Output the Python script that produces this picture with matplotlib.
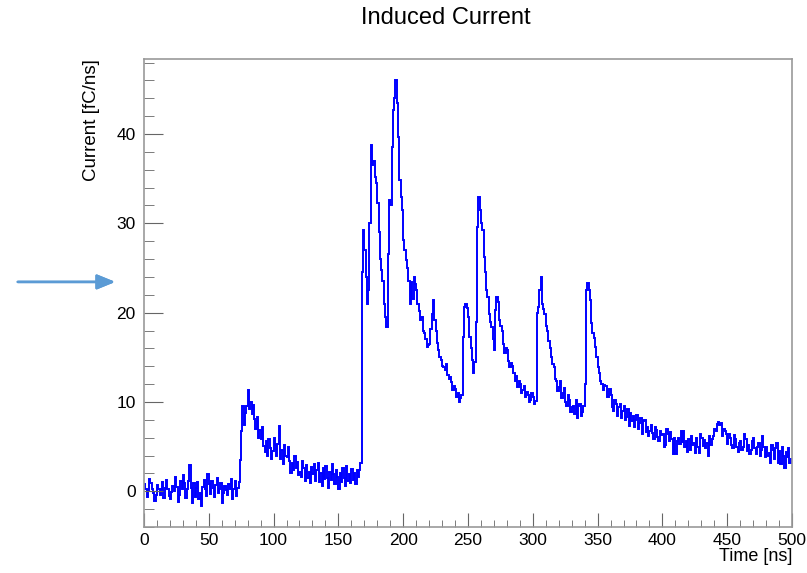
import numpy as np
import matplotlib.pyplot as plt
from matplotlib.ticker import MultipleLocator

plt.rcParams["font.family"] = ["Liberation Sans", "DejaVu Sans"]

# induced current per 1 ns bin, 0..500 ns
current = [
    0.8, 0.2, -0.6, 0.1, 1.4, 0.9, 0.3, -0.2, -1.1, -0.4,
    0.7, 0.2, -0.4, 0.3, 1.0, -0.8, 0.4, 1.3, 0.2, -0.5,
    -0.9, -0.1, 0.6, 0.0, 1.6, 0.5, -1.2, -0.4, 1.1, 0.3,
    1.8, 0.9, -0.7, 0.2, 1.2, 2.9, 0.4, -1.3, 0.9, -0.6,
    0.4, 1.0, -0.9, -0.2, -1.7, 0.5, 1.3, 0.2, -0.5, 1.9,
    0.8, -0.3, 1.2, 0.4, -0.6, 0.7, 1.5, -0.2, 0.3, 0.9,
    -1.3, -0.2, 0.6, 0.1, -0.4, 0.8, 0.2, 1.4, -0.9, 0.3,
    1.2, -0.5, 0.4, 1.0, 3.5, 6.8, 9.6, 7.4, 8.8, 9.5,
    11.3, 9.2, 10.0, 8.6, 9.7, 8.1, 7.0, 8.3, 6.0, 6.9,
    5.8, 7.2, 5.1, 4.4, 5.6, 4.0, 5.9, 4.8, 3.6, 4.5,
    6.0, 5.2, 4.0, 5.3, 7.3, 3.6, 4.6, 3.0, 5.2, 4.0,
    3.8, 5.0, 3.4, 2.0, 3.2, 2.4, 4.0, 2.6, 3.3, 1.8,
    2.2, 1.6, 3.4, 2.6, 1.2, 2.9, 1.5, 2.2, 0.9, 2.7,
    1.9, 3.0, 1.1, 2.4, 3.2, 1.0, 2.0, 0.6, 2.6, 1.4,
    2.8, 1.5, 0.4, 2.2, 1.3, 3.0, 1.9, 0.8, 2.4, 1.6,
    0.2, 2.1, 1.0, 2.6, 1.5, 0.6, 2.8, 1.2, 1.9, 0.9,
    2.5, 1.3, 2.0, 0.8, 2.4, 1.6, 2.4, 3.2, 24.5, 29.2,
    27.0, 24.0, 21.0, 22.5, 30.0, 38.8, 36.5, 37.0, 35.2, 34.5,
    32.3, 29.0, 26.0, 24.8, 23.6, 21.0, 19.5, 18.4, 26.6, 32.6,
    32.0, 38.5, 42.7, 44.0, 46.0, 43.5, 39.7, 34.8, 33.0, 31.5,
    28.1, 27.0, 25.9, 25.0, 23.6, 21.0, 23.4, 21.5, 24.0, 23.2,
    22.5, 21.0, 20.2, 19.2, 19.5, 18.0, 17.7, 17.0, 16.1, 16.4,
    16.5, 18.2, 19.9, 21.4, 19.2, 18.0, 16.6, 15.8, 15.0, 14.7,
    14.0, 13.9, 13.6, 14.2, 13.0, 12.6, 12.8, 12.2, 11.3, 11.8,
    11.5, 10.5, 11.0, 10.0, 10.4, 10.8, 17.3, 20.6, 21.0, 20.5,
    19.5, 17.3, 16.0, 14.7, 13.2, 14.5, 19.0, 29.6, 33.0, 31.5,
    30.0, 29.2, 26.2, 24.5, 22.5, 21.7, 19.9, 19.0, 18.4, 17.0,
    15.8, 20.3, 21.7, 21.2, 19.2, 18.5, 18.0, 16.5, 15.5, 16.0,
    15.8, 14.6, 13.9, 14.4, 14.0, 13.2, 12.4, 12.9, 11.7, 12.3,
    12.0, 11.0, 11.3, 11.8, 10.5, 11.1, 10.8, 10.0, 10.2, 11.0,
    10.6, 9.8, 10.1, 20.0, 20.6, 22.5, 24.0, 21.0, 20.4, 19.9,
    18.5, 18.0, 16.8, 16.0, 15.0, 14.2, 13.9, 12.6, 12.4, 11.2,
    11.7, 12.3, 10.4, 11.0, 11.6, 10.0, 9.6, 10.8, 10.2, 8.9,
    9.4, 9.6, 8.7, 10.2, 8.2, 9.6, 9.8, 8.4, 8.9, 9.5,
    12.0, 22.5, 23.3, 22.5, 21.4, 18.8, 17.7, 17.2, 16.1, 15.0,
    13.9, 13.2, 12.4, 12.0, 11.3, 11.9, 11.8, 10.6, 10.5, 11.4,
    10.8, 9.4, 9.0, 10.2, 9.8, 8.4, 9.4, 9.8, 8.2, 9.0,
    9.5, 8.0, 8.3, 9.2, 7.3, 8.8, 7.9, 8.4, 7.2, 8.0,
    8.5, 7.0, 7.6, 8.2, 6.4, 7.9, 8.0, 6.6, 7.2, 6.2,
    6.8, 7.4, 6.5, 5.8, 7.2, 6.9, 6.1, 5.6, 6.8, 6.3,
    6.4, 5.0, 5.2, 7.0, 6.4, 5.6, 6.6, 5.8, 4.2, 6.0,
    4.2, 5.6, 6.0, 5.3, 6.8, 5.5, 6.8, 5.0, 5.6, 4.4,
    5.8, 4.6, 6.2, 5.2, 5.4, 4.3, 6.0, 5.0, 4.3, 6.4,
    6.0, 5.1, 5.7, 4.8, 5.4, 4.0, 6.2, 5.2, 5.8, 6.2,
    7.0, 6.8, 7.5, 7.8, 7.4, 7.6, 6.2, 7.0, 6.8, 6.4,
    5.3, 6.4, 6.0, 5.2, 4.8, 6.3, 5.9, 5.0, 4.4, 5.4,
    5.6, 4.6, 5.0, 6.4, 5.8, 4.5, 5.2, 4.2, 4.6, 5.6,
    6.0, 4.8, 4.2, 5.0, 5.4, 4.0, 4.6, 6.2, 5.0, 3.8,
    5.0, 4.0, 4.3, 3.2, 5.2, 4.6, 3.6, 4.8, 5.4, 3.2,
    4.5, 3.0, 5.0, 4.0, 2.6, 4.4, 3.8, 4.9, 3.2, 3.6,
]
t_min, t_max = 0, 500

fig = plt.figure(figsize=(8.07, 5.73), dpi=100)
ax = fig.add_axes([0.1784, 0.0803, 0.8030, 0.8167])

edges = np.linspace(t_min, t_max, len(current) + 1)
ax.stairs(current, edges, color="#0000ff", linewidth=1.4, baseline=None)

ax.set_xlim(t_min, t_max)
ax.set_ylim(-4, 48.4)

ax.xaxis.set_major_locator(MultipleLocator(50))
ax.xaxis.set_minor_locator(MultipleLocator(10))
ax.yaxis.set_major_locator(MultipleLocator(10))
ax.yaxis.set_minor_locator(MultipleLocator(2))

ax.tick_params(which="both", direction="in", color="#666666", labelsize=12.5,
               top=False, right=False)
ax.tick_params(axis="y", which="major", length=14, pad=6)
ax.tick_params(axis="y", which="minor", length=7)
ax.tick_params(axis="x", which="major", length=10, pad=4)
ax.tick_params(axis="x", which="minor", length=5)

for s in ax.spines.values():
    s.set_color("#999999")
    s.set_linewidth(1.2)

fig.text(446 / 807, 1 - 18 / 573, "Induced Current", ha="center", va="center",
         fontsize=17)
ax.set_xlabel("Time [ns]", loc="right", fontsize=13, labelpad=0)
ax.set_ylabel("Current [fC/ns]", loc="top", fontsize=13.5, labelpad=12)

# pointer arrow on the left margin
fig.add_artist(plt.annotate(
    "", xy=(0.1462, 0.508), xytext=(0.0186, 0.508),
    xycoords="figure fraction", textcoords="figure fraction",
    arrowprops=dict(arrowstyle="-|>,head_length=1.1,head_width=0.45",
                    color="#5b9bd5", lw=1.8),
))

fig.savefig("out.png", dpi=100)
